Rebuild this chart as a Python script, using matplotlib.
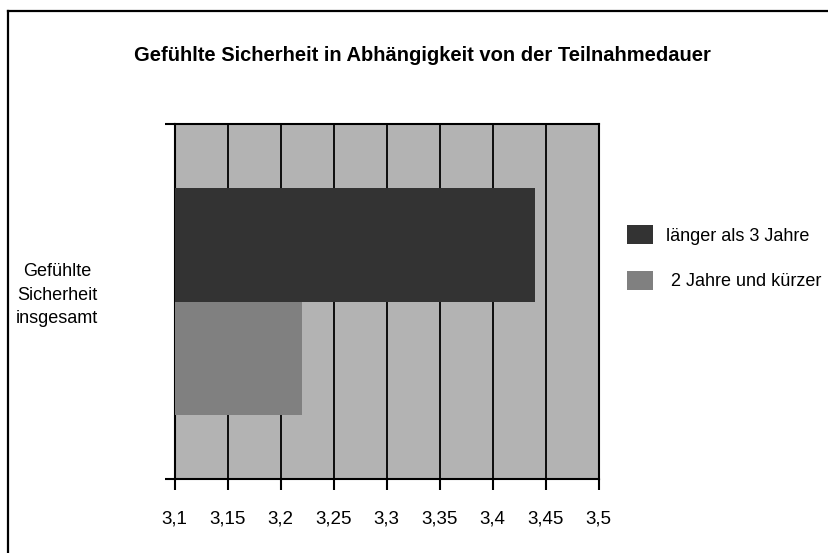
import matplotlib
matplotlib.use("Agg")
import matplotlib.pyplot as plt
from matplotlib.lines import Line2D
from matplotlib import font_manager

names = {f.name for f in font_manager.fontManager.ttflist}
narrow = 'Liberation Sans Narrow' if 'Liberation Sans Narrow' in names else 'Liberation Sans'
plt.rcParams['font.family'] = [narrow, 'DejaVu Sans']

title = "Gefühlte Sicherheit in Abhängigkeit von der Teilnahmedauer"
category = "Gefühlte\nSicherheit\ninsgesamt"
series = ["länger als 3 Jahre", " 2 Jahre und kürzer"]
values = [3.44, 3.22]
colors = ["#333333", "#808080"]
xticks = [3.1, 3.15, 3.2, 3.25, 3.3, 3.35, 3.4, 3.45, 3.5]
xticklabels = ["3,1", "3,15", "3,2", "3,25", "3,3", "3,35", "3,4", "3,45", "3,5"]
xmin, xmax = 3.1, 3.5

W, H = 829, 553
fig = plt.figure(figsize=(W / 100, H / 100), dpi=100)
ax = fig.add_axes([174.7 / W, 1 - 479 / H, (598.7 - 174.7) / W, (479 - 124) / H])
ax.set_facecolor("#b3b3b3")
ax.set_xlim(xmin, xmax)
ax.set_ylim(0, 1)

bh = 0.32
ypos = [0.5 + bh / 2, 0.5 - bh / 2]
bars = []
for v, c, lab, y in zip(values, colors, series, ypos):
    b = ax.barh(y, v - xmin, left=xmin, height=bh, color=c, label=lab, zorder=3)
    bars.append(b)

ax.set_xticks(xticks)
ax.set_xticklabels(xticklabels, fontsize=13.5)
ax.set_yticks([0, 1])
ax.set_yticklabels(["", ""])
ax.tick_params(axis='x', direction='out', length=8, width=1.5, pad=15, colors='black')
ax.tick_params(axis='y', direction='out', length=7, width=1.5)
ax.grid(axis='x', color='black', linewidth=1.3, zorder=1)
ax.set_axisbelow(True)
for s in ax.spines.values():
    s.set_linewidth(1.5)
    s.set_color('black')

fig.text(422 / W, 1 - 55 / H, title, ha='center', va='center', fontsize=14.5, fontweight='bold')
fig.text(57 / W, 1 - 295 / H, category, ha='center', va='center', fontsize=13, linespacing=1.5)

leg = fig.legend(handles=[b[0] for b in bars], labels=series, loc='upper left',
                 bbox_to_anchor=(627 / W, 1 - 225 / H), bbox_transform=fig.transFigure,
                 frameon=False, fontsize=13, borderpad=0, borderaxespad=0,
                 handlelength=1.44, handleheight=1.25, handletextpad=0.7, labelspacing=1.45)

fig.add_artist(Line2D([8.5 / W, 8.5 / W], [0, 1 - 11 / H], transform=fig.transFigure, color='black', linewidth=1.6))
fig.add_artist(Line2D([8.5 / W, 1], [1 - 11 / H, 1 - 11 / H], transform=fig.transFigure, color='black', linewidth=1.6))

fig.savefig("out.png", dpi=100)
